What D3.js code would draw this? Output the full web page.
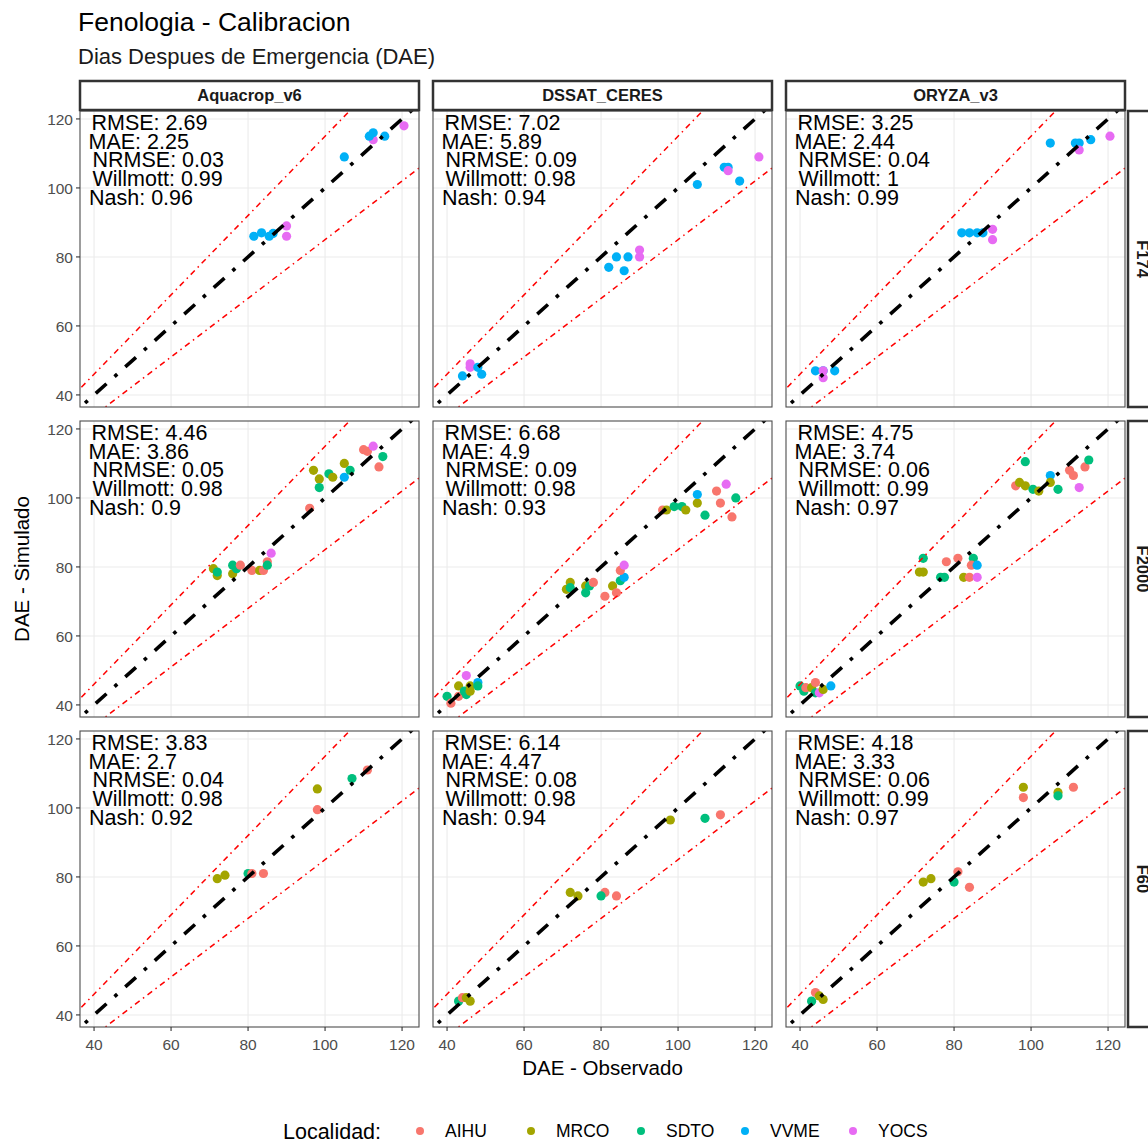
<!DOCTYPE html>
<html>
<head>
<meta charset="utf-8">
<script src="https://cdn.jsdelivr.net/npm/d3@7"></script>
<style>
  html, body { margin: 0; padding: 0; background: #fff; }
  svg text { font-family: "Liberation Sans", Arial, sans-serif; }
</style>
</head>
<body>
<svg id="chart" width="1148" height="1140"></svg>
<script>
// ---------------- DATA ----------------
const models = ["Aquacrop_v6", "DSSAT_CERES", "ORYZA_v3"];
const treatments = ["F174", "F2000", "F60"];
const localidades = ["AIHU", "MRCO", "SDTO", "VVME", "YOCS"];
const locColors = ["#F8766D", "#A3A500", "#00BF7D", "#00B0F6", "#E76BF3"];
const xTicks = [40, 60, 80, 100, 120];
const yTicks = [40, 60, 80, 100, 120];

// statistics [treatment][model]
const rmse     = [[2.69, 7.02, 3.25], [4.46, 6.68, 4.75], [3.83, 6.14, 4.18]];
const mae      = [[2.25, 5.89, 2.44], [3.86, 4.9, 3.74], [2.7, 4.47, 3.33]];
const nrmse    = [[0.03, 0.09, 0.04], [0.05, 0.09, 0.06], [0.04, 0.08, 0.06]];
const willmott = [[0.99, 0.98, 1], [0.98, 0.98, 0.99], [0.98, 0.98, 0.99]];
const nash     = [[0.96, 0.94, 0.99], [0.9, 0.93, 0.97], [0.92, 0.94, 0.97]];

// points: [localidad, observado, simulado]
const pts_F174_Aquacrop = [
  ["VVME",81.5,86],["VVME",83.5,87],["VVME",85.5,86],["VVME",86.5,86.8],
  ["YOCS",90,89],["YOCS",90,86],["VVME",105,109],["YOCS",112.5,114],
  ["VVME",111.5,115],["VVME",112.5,116],["VVME",115.5,115],["YOCS",120.5,118]
];
const pts_F174_DSSAT = [
  ["VVME",44,45.5],["YOCS",46,49],["YOCS",46,48],["VVME",48,48],["VVME",49,46],
  ["VVME",82,77],["VVME",84,80],["VVME",86,76],["VVME",87,80],["YOCS",90,82],["YOCS",90,80],
  ["VVME",105,101],["VVME",112,106],["VVME",113,106],["YOCS",113,105],["VVME",116,102],["YOCS",121,109]
];
const pts_F174_ORYZA = [
  ["VVME",44,47],["VVME",46,47],["VVME",49,47],["YOCS",46,47],["YOCS",46,45],
  ["VVME",82,87],["VVME",84,87],["VVME",86,87],["VVME",87.5,87],["YOCS",90,88],["YOCS",90,85],
  ["VVME",105,113],["VVME",111.5,113],["VVME",112.5,113],["VVME",115.5,114],["YOCS",112.5,111],["YOCS",120.5,115]
];
const pts_F2000_Aquacrop = [
  ["MRCO",71,79.5],["MRCO",72,77.5],["SDTO",72,78.5],["MRCO",76,78],["SDTO",76,80.5],["SDTO",77,79.5],
  ["AIHU",78,80.5],["AIHU",81,79],["MRCO",83,79],["AIHU",84,79],["AIHU",85,81.5],["SDTO",85,80.5],["YOCS",86,84],
  ["AIHU",96,97],["MRCO",97,108],["MRCO",98.5,105.5],["SDTO",98.5,103],["SDTO",101,107],["MRCO",102,106],
  ["MRCO",105,110],["VVME",105,106],["SDTO",106.5,108],["AIHU",110,114],["AIHU",111,113.5],["YOCS",112.5,115],
  ["SDTO",115,112],["AIHU",114,109]
];
const pts_F2000_DSSAT = [
  ["SDTO",40,42.5],["AIHU",41,40.5],["AIHU",43,42.5],["MRCO",43,45.5],["SDTO",44.5,44],["SDTO",45,43],
  ["MRCO",46,45.5],["YOCS",45,48.5],["VVME",48,46.5],["SDTO",48,45.5],["MRCO",46,44],
  ["MRCO",71,73.5],["MRCO",72,75.5],["SDTO",72,74],["MRCO",76,74.5],["SDTO",76,72.5],["SDTO",77,74.5],
  ["AIHU",78,75.5],["AIHU",81,71.5],["MRCO",83,74.5],["AIHU",84,72.5],["SDTO",85,76],["VVME",86,77],
  ["AIHU",85,79],["YOCS",86,80.5],
  ["AIHU",96,96.5],["MRCO",97,96.5],["SDTO",99,97.5],["SDTO",101,97.5],["MRCO",102,96.5],["MRCO",105,98.5],
  ["VVME",105,101],["SDTO",107,95],["AIHU",110,102],["AIHU",111,98.5],["YOCS",112.5,104],["SDTO",115,100],["AIHU",114,94.5]
];
const pts_F2000_ORYZA = [
  ["SDTO",40,45.5],["SDTO",41,44],["AIHU",41.5,45],["MRCO",43,45],["AIHU",44,46.5],["SDTO",44,43.5],
  ["YOCS",45,43.5],["MRCO",46,44.5],["VVME",48,45.5],
  ["MRCO",71,78.5],["MRCO",72,78.5],["SDTO",72,82.5],["SDTO",76.5,77],["SDTO",77.5,77],["AIHU",78,81.5],
  ["AIHU",81,82.5],["SDTO",85,82.5],["AIHU",84.5,80.5],["VVME",86,80.5],["MRCO",82.5,77],["AIHU",84,77],["YOCS",86,77],
  ["SDTO",98.5,110.5],["AIHU",96,103.5],["MRCO",97,104.5],["MRCO",98.5,103.5],["SDTO",100.5,102.5],["MRCO",102,102],
  ["VVME",105,106.5],["MRCO",105,104.5],["SDTO",107,102.5],["AIHU",110,108],["AIHU",111,106.5],["YOCS",112.5,103],
  ["AIHU",114,109],["SDTO",115,111]
];
const pts_F60_Aquacrop = [
  ["MRCO",72,79.5],["MRCO",74,80.5],["SDTO",80,81],["AIHU",81,81],["AIHU",84,81],
  ["AIHU",98,99.5],["MRCO",98,105.5],["SDTO",107,108.5],["AIHU",111,111]
];
const pts_F60_DSSAT = [
  ["SDTO",43,44],["AIHU",44,45],["MRCO",45,45],["MRCO",46,44],
  ["MRCO",72,75.5],["MRCO",74,74.5],["AIHU",81,75.5],["SDTO",80,74.5],["AIHU",84,74.5],
  ["MRCO",98,96.5],["SDTO",107,97],["AIHU",111,98]
];
const pts_F60_ORYZA = [
  ["SDTO",43,44],["AIHU",44,46.5],["MRCO",45,45.5],["MRCO",46,44.5],
  ["MRCO",72,78.5],["MRCO",74,79.5],["AIHU",81,81.5],["SDTO",80,78.5],["AIHU",84,77],
  ["MRCO",98,106],["AIHU",98,103],["MRCO",107,104.5],["SDTO",107,103.5],["AIHU",111,106]
];

const panelPoints = [
  [pts_F174_Aquacrop, pts_F174_DSSAT, pts_F174_ORYZA],
  [pts_F2000_Aquacrop, pts_F2000_DSSAT, pts_F2000_ORYZA],
  [pts_F60_Aquacrop, pts_F60_DSSAT, pts_F60_ORYZA]
];

// ---------------- LAYOUT ----------------
const svg = d3.select("#chart");
const panelW = 339, panelH = 296, gap = 14;
const left0 = 80, top0 = 111;
const colX = d3.range(3).map(i => left0 + i * (panelW + gap));
const rowY = d3.range(3).map(i => top0 + i * (panelH + gap));

const x = d3.scaleLinear().domain([36.35, 124.4]).range([0, panelW]);
const y = d3.scaleLinear().domain([36.5, 122.3]).range([panelH, 0]);
const color = d3.scaleOrdinal().domain(localidades).range(locColors);

// titles
svg.append("text").attr("x", 78).attr("y", 31).attr("font-size", 26.5).attr("fill", "#000")
  .text("Fenologia - Calibracion");
svg.append("text").attr("x", 78).attr("y", 64).attr("font-size", 22).attr("fill", "#1a1a1a")
  .text("Dias Despues de Emergencia (DAE)");

const defs = svg.append("defs");
defs.append("clipPath").attr("id", "pclip").append("rect")
  .attr("x", 0).attr("y", 0).attr("width", panelW).attr("height", panelH);

const statLines = [
  { lab: "RMSE: ", arr: rmse, dx: 11.5 },
  { lab: "MAE: ", arr: mae, dx: 8.5 },
  { lab: "NRMSE: ", arr: nrmse, dx: 12.5 },
  { lab: "Willmott: ", arr: willmott, dx: 12.5 },
  { lab: "Nash: ", arr: nash, dx: 9 }
];

const lineDomain = [30, 130];

treatments.forEach((tr, r) => {
  models.forEach((m, c) => {
    const g = svg.append("g").attr("transform", `translate(${colX[c]},${rowY[r]})`);
    g.append("rect").attr("width", panelW).attr("height", panelH).attr("fill", "#fff");
    // grid
    g.selectAll(".gx").data(xTicks).join("line")
      .attr("x1", d => x(d)).attr("x2", d => x(d)).attr("y1", 0).attr("y2", panelH)
      .attr("stroke", "#ebebeb").attr("stroke-width", 1.1);
    g.selectAll(".gy").data(yTicks).join("line")
      .attr("y1", d => y(d)).attr("y2", d => y(d)).attr("x1", 0).attr("x2", panelW)
      .attr("stroke", "#ebebeb").attr("stroke-width", 1.1);

    const clip = g.append("g").attr("clip-path", "url(#pclip)");
    // points
    clip.selectAll("circle").data(panelPoints[r][c]).join("circle")
      .attr("cx", d => x(d[1])).attr("cy", d => y(d[2])).attr("r", 4.6)
      .attr("fill", d => color(d[0]));
    // reference lines
    const refLine = (k, stroke, w, dash) => {
      clip.append("line")
        .attr("x1", x(lineDomain[0])).attr("y1", y(lineDomain[0] * k))
        .attr("x2", x(lineDomain[1])).attr("y2", y(lineDomain[1] * k))
        .attr("stroke", stroke).attr("stroke-width", w).attr("stroke-dasharray", dash);
    };
    refLine(1.15, "#ff0000", 1.5, "1.5,4.2,5.8,4.2");
    refLine(0.85, "#ff0000", 1.5, "1.5,4.2,5.8,4.2");
    refLine(1.0, "#000", 3.6, "3.6,10.8,14.4,10.8");

    // stats text
    statLines.forEach((s, i) => {
      g.append("text").attr("x", s.dx).attr("y", 19 + i * 18.7)
        .attr("font-size", 21.5).attr("fill", "#000")
        .text(s.lab + s.arr[r][c]);
    });

    // border
    g.append("rect").attr("width", panelW).attr("height", panelH)
      .attr("fill", "none").attr("stroke", "#4d4d4d").attr("stroke-width", 1.1);

    // y axis (left column)
    if (c === 0) {
      const ya = g.append("g");
      ya.selectAll("line").data(yTicks).join("line")
        .attr("x1", -4).attr("x2", 0).attr("y1", d => y(d)).attr("y2", d => y(d))
        .attr("stroke", "#333").attr("stroke-width", 1.1);
      ya.selectAll("text").data(yTicks).join("text")
        .attr("x", -7).attr("y", d => y(d)).attr("dy", "0.36em")
        .attr("text-anchor", "end").attr("font-size", 15.5).attr("fill", "#4d4d4d")
        .text(d => d);
    }
    // x axis (bottom row)
    if (r === 2) {
      const xa = g.append("g").attr("transform", `translate(0,${panelH})`);
      xa.selectAll("line").data(xTicks).join("line")
        .attr("x1", d => x(d)).attr("x2", d => x(d)).attr("y1", 0).attr("y2", 4)
        .attr("stroke", "#333").attr("stroke-width", 1.1);
      xa.selectAll("text").data(xTicks).join("text")
        .attr("x", d => x(d)).attr("y", 23).attr("text-anchor", "middle")
        .attr("font-size", 15.5).attr("fill", "#4d4d4d").text(d => d);
    }
  });
});

// top strips
models.forEach((m, c) => {
  const g = svg.append("g").attr("transform", `translate(${colX[c]},81)`);
  g.append("rect").attr("width", panelW).attr("height", 29)
    .attr("fill", "#fff").attr("stroke", "#333").attr("stroke-width", 2.5);
  g.append("text").attr("x", panelW / 2).attr("y", 14.5).attr("dy", "0.36em")
    .attr("text-anchor", "middle").attr("font-size", 16.5).attr("font-weight", "bold")
    .attr("fill", "#1a1a1a").text(m);
});
// right strips
treatments.forEach((t, r) => {
  const g = svg.append("g").attr("transform", `translate(${colX[2] + panelW + 3},${rowY[r]})`);
  g.append("rect").attr("width", 29).attr("height", panelH)
    .attr("fill", "#fff").attr("stroke", "#333").attr("stroke-width", 2.5);
  g.append("text").attr("transform", `translate(14.5,${panelH / 2}) rotate(90)`)
    .attr("dy", "0.36em").attr("text-anchor", "middle").attr("font-size", 16.5)
    .attr("font-weight", "bold").attr("fill", "#1a1a1a").text(t);
});

// axis titles
svg.append("text").attr("x", (colX[0] + colX[2] + panelW) / 2).attr("y", 1075)
  .attr("text-anchor", "middle").attr("font-size", 20.5).attr("fill", "#000")
  .text("DAE - Observado");
svg.append("text").attr("transform", `translate(29,${(rowY[0] + rowY[2] + panelH) / 2}) rotate(-90)`)
  .attr("text-anchor", "middle").attr("font-size", 20.5).attr("fill", "#000")
  .text("DAE - Simulado");

// legend
const leg = svg.append("g").attr("transform", "translate(0,1131)");
leg.append("text").attr("x", 283).attr("y", 0).attr("dy", "0.36em")
  .attr("font-size", 21.5).attr("fill", "#000").text("Localidad:");
const keyX = [420, 531, 641, 745, 853];
localidades.forEach((l, i) => {
  leg.append("circle").attr("cx", keyX[i]).attr("cy", 0).attr("r", 4).attr("fill", color(l));
  leg.append("text").attr("x", keyX[i] + 25).attr("y", 0).attr("dy", "0.36em")
    .attr("font-size", 17.5).attr("fill", "#000").text(l);
});
</script>
</body>
</html>
